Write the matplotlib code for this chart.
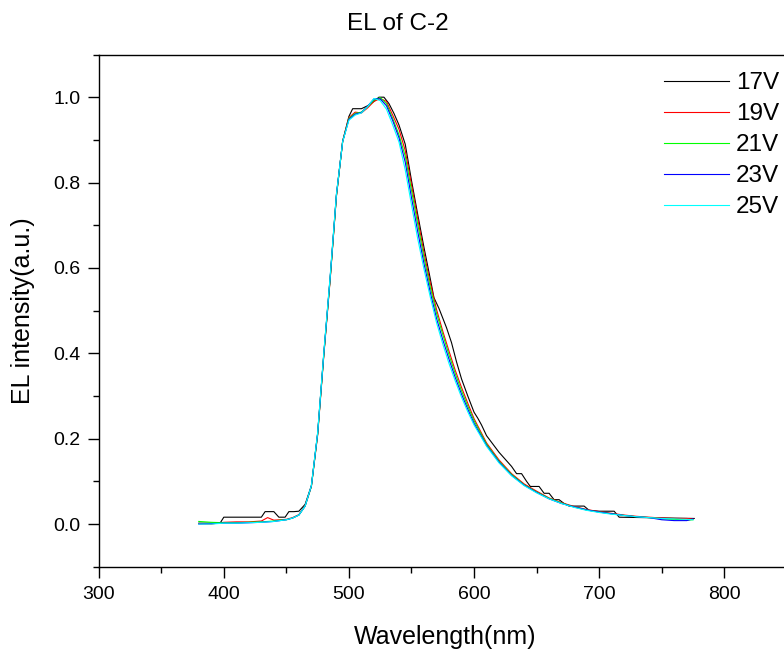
import matplotlib
matplotlib.use('Agg')
import matplotlib.pyplot as plt
from matplotlib.ticker import MultipleLocator, FormatStrFormatter

plt.rcParams['font.family'] = ['Liberation Sans', 'DejaVu Sans']

# shared wavelength grid (nm) for 19V..25V
wl = [380, 390, 400, 410, 420, 430, 435, 440, 445, 450,
      455, 460, 465, 470, 475, 480, 485, 490, 495, 500,
      505, 510, 515, 520, 525, 530, 535, 540, 545, 550,
      555, 560, 565, 570, 575, 580, 585, 590, 595, 600,
      610, 620, 630, 640, 650, 660, 670, 680, 690, 700,
      710, 720, 730, 740, 750, 760, 770, 775]

# 17V was recorded with coarser steps
wl_17 = [380, 397, 400, 430, 433, 440, 444, 449, 452, 456,
         460, 465, 470, 475, 480, 485, 490, 495, 500, 503,
         510, 515, 520, 524, 528, 532, 536, 540, 545, 550,
         555, 560, 565, 568, 572, 578, 582, 586, 590, 595,
         600, 603, 606, 610, 620, 630, 634, 638, 642, 645,
         652, 656, 660, 664, 668, 672, 676, 688, 692, 700,
         712, 716, 776]
el_17 = [0.002, 0.002, 0.016, 0.016, 0.029, 0.029, 0.016, 0.016, 0.029, 0.029,
         0.030, 0.046, 0.090, 0.212, 0.400, 0.575, 0.768, 0.897, 0.955, 0.973,
         0.973, 0.980, 0.990, 1.000, 1.000, 0.985, 0.962, 0.935, 0.890, 0.805,
         0.725, 0.648, 0.575, 0.530, 0.505, 0.460, 0.425, 0.380, 0.340, 0.300,
         0.262, 0.248, 0.232, 0.207, 0.168, 0.135, 0.118, 0.118, 0.100, 0.088,
         0.088, 0.072, 0.072, 0.057, 0.057, 0.048, 0.042, 0.042, 0.032, 0.030,
         0.030, 0.016, 0.013]

el_19 = [0.001, 0.000, 0.004, 0.005, 0.005, 0.007, 0.015, 0.009, 0.010, 0.011,
         0.015, 0.022, 0.043, 0.088, 0.208, 0.397, 0.572, 0.768, 0.897, 0.952,
         0.965, 0.963, 0.975, 0.990, 0.997, 0.990, 0.958, 0.925, 0.875, 0.795,
         0.715, 0.635, 0.565, 0.503, 0.452, 0.405, 0.360, 0.320, 0.283, 0.247,
         0.190, 0.150, 0.118, 0.094, 0.077, 0.061, 0.050, 0.041, 0.034, 0.029,
         0.025, 0.021, 0.018, 0.016, 0.014, 0.013, 0.013, 0.012]
el_21 = [0.006, 0.004, 0.003, 0.003, 0.004, 0.005, 0.006, 0.007, 0.009, 0.010,
         0.014, 0.021, 0.042, 0.088, 0.210, 0.400, 0.575, 0.770, 0.896, 0.950,
         0.962, 0.965, 0.978, 0.993, 0.999, 0.985, 0.950, 0.912, 0.862, 0.782,
         0.702, 0.624, 0.555, 0.494, 0.444, 0.396, 0.352, 0.312, 0.276, 0.242,
         0.187, 0.147, 0.116, 0.092, 0.075, 0.060, 0.049, 0.040, 0.033, 0.028,
         0.024, 0.020, 0.017, 0.015, 0.012, 0.011, 0.009, 0.010]
el_23 = [0.000, 0.001, 0.002, 0.002, 0.003, 0.004, 0.005, 0.006, 0.008, 0.010,
         0.014, 0.021, 0.042, 0.089, 0.212, 0.402, 0.578, 0.772, 0.896, 0.948,
         0.960, 0.964, 0.979, 0.996, 0.996, 0.980, 0.945, 0.905, 0.848, 0.765,
         0.685, 0.610, 0.543, 0.482, 0.432, 0.386, 0.343, 0.304, 0.269, 0.236,
         0.184, 0.145, 0.114, 0.091, 0.074, 0.059, 0.048, 0.040, 0.033, 0.028,
         0.024, 0.020, 0.017, 0.015, 0.010, 0.008, 0.008, 0.012]
el_25 = [0.000, 0.000, 0.002, 0.002, 0.003, 0.004, 0.005, 0.006, 0.008, 0.010,
         0.014, 0.021, 0.042, 0.090, 0.214, 0.404, 0.580, 0.772, 0.896, 0.946,
         0.958, 0.963, 0.978, 0.997, 0.992, 0.972, 0.935, 0.895, 0.830, 0.748,
         0.668, 0.597, 0.532, 0.472, 0.422, 0.376, 0.335, 0.297, 0.263, 0.232,
         0.182, 0.143, 0.113, 0.090, 0.073, 0.059, 0.048, 0.039, 0.032, 0.027,
         0.023, 0.020, 0.017, 0.015, 0.013, 0.012, 0.011, 0.010]

labels = ['17V', '19V', '21V', '23V', '25V']
colors = ['#000000', '#ff0000', '#00ff00', '#0000ff', '#00ffff']

fig = plt.figure(figsize=(7.84, 6.55), dpi=100)
# right end of the axes sits just past the page edge, as in the original export
ax = fig.add_axes([98.7 / 784, 1 - 566.7 / 655, 688.1 / 784, 512.2 / 655])

xs = [wl_17, wl, wl, wl, wl]
ys = [el_17, el_19, el_21, el_23, el_25]
for x, y, lab, c in zip(xs, ys, labels, colors):
    ax.plot(x, y, color=c, lw=0.8, label=lab)

ax.set_xlim(300, 850)
ax.set_ylim(-0.1, 1.1)
ax.xaxis.set_major_locator(MultipleLocator(100))
ax.xaxis.set_minor_locator(MultipleLocator(50))
ax.yaxis.set_major_locator(MultipleLocator(0.2))
ax.yaxis.set_minor_locator(MultipleLocator(0.1))
ax.yaxis.set_major_formatter(FormatStrFormatter('%.1f'))
ax.tick_params(which='major', direction='out', length=8, width=1.0,
               labelsize=14, pad=5)
ax.tick_params(which='minor', direction='out', length=4.5, width=1.0)
ax.tick_params(axis='x', which='major', pad=6)
ax.spines['right'].set_visible(False)
for s in ['left', 'bottom', 'top']:
    ax.spines[s].set_linewidth(1.0)

ax.set_xlabel('Wavelength(nm)', fontsize=18)
ax.set_ylabel('EL intensity(a.u.)', fontsize=18)
ax.xaxis.set_label_coords((445 - 98.7) / 688.1, (566.7 - 637) / 512.2)
ax.yaxis.set_label_coords((22.5 - 98.7) / 688.1, 0.5)
ax.xaxis.label.set_va('center')
ax.yaxis.label.set_va('center')

fig.text(398 / 784, 1 - 23.7 / 655, 'EL of C-2', fontsize=17.5,
         ha='center', va='center')

ax.legend(loc='upper left', bbox_to_anchor=(664 / 784, 1 - 72 / 655),
          bbox_transform=fig.transFigure, frameon=False, fontsize=17.5,
          handlelength=2.67, handletextpad=0.28, labelspacing=0.37,
          borderpad=0, borderaxespad=0)

fig.savefig('out.png', dpi=100)
